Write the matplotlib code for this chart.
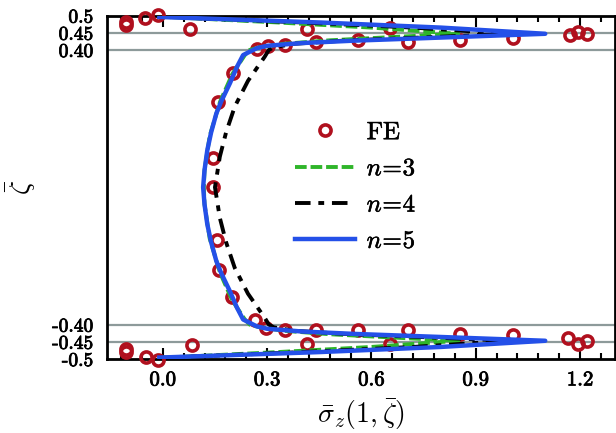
import matplotlib
matplotlib.use('Agg')
import matplotlib.pyplot as plt
import matplotlib.patheffects as pe
from matplotlib.ticker import MultipleLocator

plt.rcParams['font.family'] = 'serif'
plt.rcParams['font.serif'] = ['cmr10', 'DejaVu Serif']
plt.rcParams['mathtext.fontset'] = 'cm'
plt.rcParams['axes.unicode_minus'] = False

# FE reference points (sigma, zeta)
fe_sigma = [-0.105, -0.105, -0.052, -0.013, 0.078, 0.414, 0.653, 0.270, 0.303, 0.351,
            0.442, 0.562, 0.706, 0.855, 1.008, 1.171, 1.195, 1.219,
            0.202, 0.159, 0.143, 0.145, 0.157, 0.161, 0.198, 0.265,
            -0.105, -0.105, -0.047, -0.013, 0.083, 0.414, 0.653, 0.298, 0.351,
            0.442, 0.562, 0.706, 0.855, 1.008, 1.166, 1.193, 1.219]
fe_zeta = [0.482, 0.474, 0.494, 0.502, 0.461, 0.461, 0.463, 0.402, 0.410, 0.415,
           0.424, 0.429, 0.424, 0.429, 0.434, 0.444, 0.453, 0.446,
           0.332, 0.249, 0.084, 0.001, -0.154, -0.241, -0.319, -0.387,
           -0.470, -0.480, -0.494, -0.504, -0.460, -0.455, -0.455, -0.411, -0.416,
           -0.416, -0.416, -0.416, -0.426, -0.431, -0.440, -0.455, -0.448]

# n=3
n3_zeta = [0.497, 0.480, 0.465, 0.447, 0.437, 0.428, 0.418, 0.408, 0.400, 0.385, 0.330,
           0.250, 0.150, 0.050, 0.000, -0.050, -0.150, -0.250, -0.330, -0.385, -0.400,
           -0.408, -0.418, -0.428, -0.437, -0.447, -0.465, -0.480, -0.497]
n3_sigma = [-0.010, 0.330, 0.600, 0.850, 0.650, 0.480, 0.350, 0.280, 0.250, 0.236, 0.200,
            0.165, 0.135, 0.120, 0.118, 0.120, 0.135, 0.165, 0.200, 0.236, 0.250,
            0.280, 0.350, 0.480, 0.650, 0.850, 0.600, 0.330, -0.010]

# n=4
n4_zeta = [0.497, 0.480, 0.465, 0.447, 0.436, 0.427, 0.418, 0.408, 0.400, 0.380, 0.310,
           0.235, 0.160, 0.089, 0.000, -0.089, -0.160, -0.235, -0.310, -0.380, -0.400,
           -0.408, -0.418, -0.427, -0.436, -0.447, -0.465, -0.480, -0.497]
n4_sigma = [-0.010, 0.400, 0.720, 1.000, 0.740, 0.520, 0.380, 0.320, 0.305, 0.293, 0.245,
            0.207, 0.182, 0.164, 0.150, 0.164, 0.182, 0.207, 0.245, 0.293, 0.305,
            0.320, 0.380, 0.520, 0.740, 1.000, 0.720, 0.400, -0.010]

# n=5
n5_zeta = [0.496, 0.480, 0.465, 0.447, 0.436, 0.427, 0.420, 0.412, 0.405, 0.385, 0.350,
           0.303, 0.250, 0.215, 0.160, 0.108, 0.050, 0.000, -0.050, -0.108, -0.160,
           -0.215, -0.250, -0.303, -0.350, -0.385, -0.405, -0.412, -0.420, -0.427,
           -0.436, -0.447, -0.465, -0.480, -0.496]
n5_sigma = [-0.010, 0.450, 0.800, 1.100, 0.800, 0.550, 0.400, 0.300, 0.270, 0.231, 0.213,
            0.193, 0.168, 0.154, 0.139, 0.128, 0.120, 0.116, 0.120, 0.128, 0.139,
            0.154, 0.168, 0.193, 0.213, 0.231, 0.270, 0.300, 0.400, 0.550,
            0.800, 1.100, 0.800, 0.450, -0.010]

ref_lines = [0.45, 0.40, -0.40, -0.45]
ytick_vals = [0.5, 0.45, 0.40, -0.40, -0.45, -0.5]
ytick_labels = ['0.5', '0.45', '0.40', '-0.40', '-0.45', '-0.5']
xtick_vals = [0.0, 0.3, 0.6, 0.9, 1.2]
xtick_labels = ['0.0', '0.3', '0.6', '0.9', '1.2']

# slightly heavier strokes, the source glyphs look thick
thick = [pe.withStroke(linewidth=0.6, foreground='black')]

fig = plt.figure(figsize=(6.16, 4.33), dpi=100)
ax = fig.add_axes([0.174, 0.171, 0.824, 0.793])

for z in ref_lines:
    ax.axhline(z, color='#8d9a9a', lw=1.6, zorder=1)

ax.plot(fe_sigma, fe_zeta, 'o', ms=8, mfc='none', mec='#b0101e', mew=2.6,
        label='FE', zorder=3, clip_on=False)
ax.plot(n3_sigma, n3_zeta, color='#2fb52a', lw=2.8, ls=(0, (3, 1)), label=r'$n\!=\!3$', zorder=4)
ax.plot(n4_sigma, n4_zeta, color='black', lw=2.8, ls=(0, (4, 2, 1.5, 2)), label=r'$n\!=\!4$', zorder=5)
ax.plot(n5_sigma, n5_zeta, color='#2450e8', lw=3.2, label=r'$n\!=\!5$', zorder=6)

ax.set_xlim(-0.16, 1.30)
ax.set_ylim(-0.5, 0.5)
ax.set_xticks(xtick_vals)
ax.set_xticklabels(xtick_labels, fontsize=15, path_effects=thick)
ax.set_yticks(ytick_vals)
ax.set_yticklabels(ytick_labels, fontsize=14, path_effects=thick)
ax.xaxis.set_minor_locator(MultipleLocator(0.06))
ax.tick_params(axis='x', which='both', direction='in', top=True, width=1.5, pad=9)
ax.tick_params(axis='x', which='major', length=8)
ax.tick_params(axis='x', which='minor', length=4.5)
ax.tick_params(axis='y', which='both', length=0, pad=10)
for s in ax.spines.values():
    s.set_linewidth(2)

ax.set_xlabel(r'$\bar{\sigma}_z(1,\bar{\zeta})$', fontsize=20, labelpad=6)
ax.set_ylabel(r'$\bar{\zeta}$', fontsize=20, labelpad=10)

leg = ax.legend(loc='center', bbox_to_anchor=(0.49, 0.5), frameon=False, fontsize=18,
                handlelength=2.4, handletextpad=0.45, labelspacing=0.55)
for t in leg.get_texts():
    t.set_path_effects([pe.withStroke(linewidth=0.4, foreground='black')])

plt.savefig('out.png', dpi=100)
